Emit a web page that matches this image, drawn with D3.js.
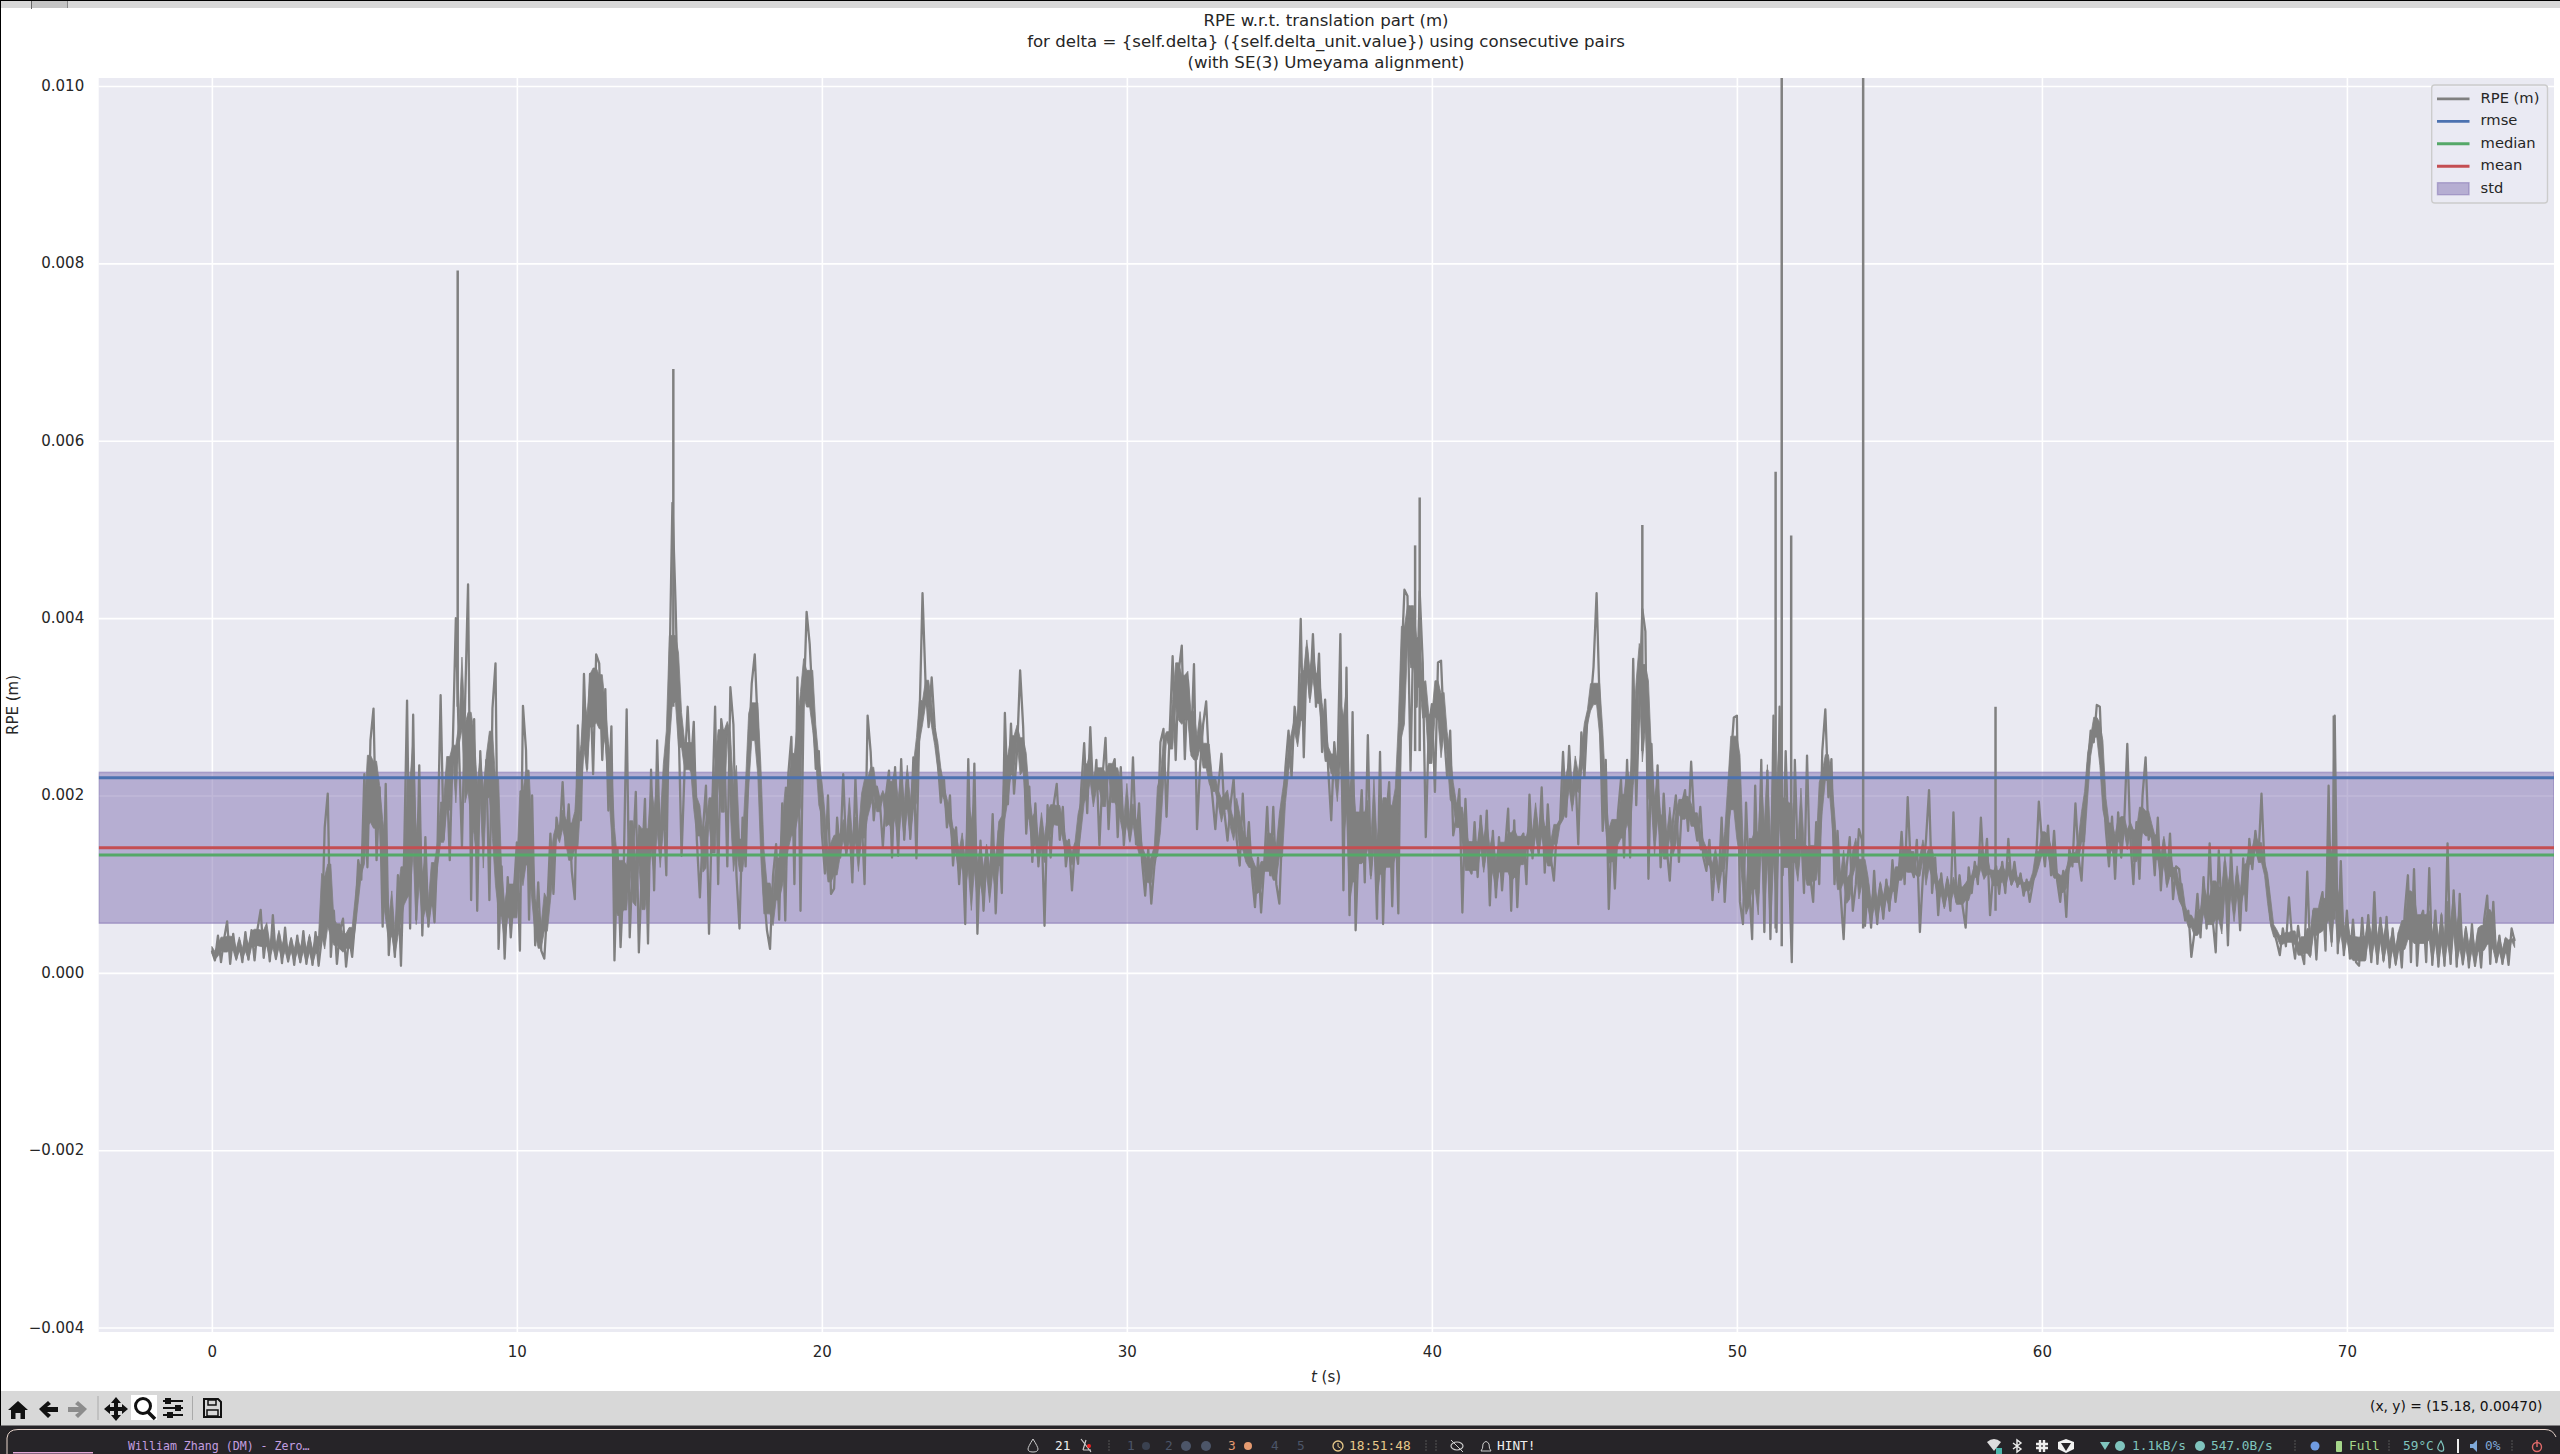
<!DOCTYPE html>
<html>
<head>
<meta charset="utf-8">
<script src="https://cdn.jsdelivr.net/npm/d3@7"></script>
<style>
html,body{margin:0;padding:0;background:#fff;width:2560px;height:1454px;overflow:hidden}
svg{display:block}
text{font-family:"DejaVu Sans",sans-serif}
.mono{font-family:"DejaVu Sans Mono",monospace}
</style>
</head>
<body>
<svg id="chart" width="2560" height="1454"></svg>
<script>
// ---- chart data -------------------------------------------------------
const titleLines = ["RPE w.r.t. translation part (m)",
  "for delta = {self.delta} ({self.delta_unit.value}) using consecutive pairs",
  "(with SE(3) Umeyama alignment)"];
const xTickValues = [0,10,20,30,40,50,60,70];
const yTickValues = [-0.004,-0.002,0,0.002,0.004,0.006,0.008,0.010];
const xLimits = [-3.71,76.79];
const yLimits = [-0.00405,0.01009];
const rmseValue = 0.00220, medianValue = 0.00133, meanValue = 0.00141;
const stdBandValues = [0.00056,0.00226];
const sampleStep = 0.1;         // seconds between the read-off samples
const valueUnit = 1e-5;         // samples below are in units of 1e-5 m
// one row per second of the recording
const rpeSamples = [
 25,14,42,12,38,58,10,44,16,36,
 12,46,15,48,14,50,71,17,46,13,
 65,16,44,11,51,13,38,9,42,12,
 47,10,40,9,46,8,38,164,202,18,
 70,10,48,61,7,40,18,60,127,105,
 224,119,262,298,127,209,52,213,20,70,
 18,110,8,127,307,50,291,60,234,42,
 153,52,98,57,145,313,150,226,127,258,
 400,255,142,300,438,82,286,70,250,164,
 240,82,298,349,27,120,16,108,40,90,
 147,25,301,251,60,200,31,102,25,16,
 75,157,89,175,153,215,142,190,115,83,
 279,172,337,230,337,224,359,349,240,320,
 183,278,14,140,29,110,297,40,130,204,
 23,120,196,33,229,93,262,130,200,110,
 330,530,420,285,132,230,300,228,283,150,
 85,160,211,44,180,300,100,286,259,120,
 322,280,110,50,175,120,250,326,359,277,
 179,90,48,27,110,145,60,191,59,224,
 266,100,333,70,297,407,371,303,230,250,
 157,112,200,89,95,175,130,224,134,170,
 102,219,130,180,100,290,249,172,210,194,
 142,200,228,130,232,132,241,150,225,151,
 243,129,283,428,326,277,333,277,240,192,
 220,164,200,121,164,100,150,55,241,90,
 236,44,149,70,140,91,179,67,160,90,
 293,190,281,202,250,341,277,157,210,125,
 191,120,170,53,189,130,190,213,150,187,
 120,150,93,145,123,206,259,180,277,196,
 240,144,220,265,162,230,241,153,232,144,
 190,150,243,145,191,125,87,140,78,120,
 145,260,275,176,268,357,240,340,369,241,
 330,250,348,162,232,280,306,230,200,162,
 210,247,180,149,190,219,150,121,202,130,
 170,110,74,130,68,120,187,110,187,100,
 78,170,232,273,220,300,270,399,243,367,
 310,382,300,360,249,308,230,172,260,220,
 382,93,344,65,294,48,150,206,102,268,
 110,180,61,249,55,175,215,75,200,67,
 347,432,425,228,400,300,430,350,153,277,
 303,204,350,352,270,221,273,155,175,207,
 68,196,120,112,170,108,177,120,183,76,
 160,85,153,93,140,185,70,172,74,150,
 157,100,201,129,180,135,209,113,190,130,
 104,164,170,249,176,256,190,230,145,271,
 220,290,302,345,428,303,160,240,72,164,
 95,180,218,130,240,130,354,189,300,410,
 385,106,258,150,234,119,202,140,104,170,
 200,125,190,206,160,238,172,149,187,130,
 115,150,82,130,100,175,80,140,240,288,
 290,80,55,192,100,38,211,90,240,46,
 228,38,290,46,300,110,250,130,12,240,
 120,168,90,245,110,80,170,100,250,297,
 198,241,100,160,89,38,120,153,70,100,
 162,150,53,100,51,115,55,100,61,105,
 70,127,80,110,159,100,198,120,108,150,
 46,110,150,206,90,130,65,112,75,105,
 70,181,80,110,75,51,119,90,125,100,
 175,112,151,65,110,120,89,125,90,151,
 100,125,97,112,87,105,80,100,120,193,
 150,120,166,110,160,104,80,115,63,140,
 120,191,130,104,170,232,273,260,302,300,
 213,160,120,176,106,181,130,170,258,150,
 100,170,106,200,243,150,160,110,175,93,
 150,100,157,83,120,117,80,59,70,18,
 45,89,40,108,50,146,60,23,138,60,
 125,31,139,70,110,48,129,70,151,117,
 160,130,202,120,102,60,47,35,20,50,
 30,85,40,16,53,25,10,114,20,70,
 15,75,91,25,211,35,290,22,126,20,
 70,16,60,12,8,62,15,65,12,91,
 10,62,14,63,6,50,10,45,6,70,
 110,12,117,8,60,70,12,118,9,70,
 7,65,8,146,10,93,7,89,10,50,
 6,55,8,45,6,60,87,10,80,12,
 42,10,38,9,50,36
];
// thin spikes that rise out of the band (time in s, base and top in 1e-5 m)
const spikeTimes = [8.06,15.13,39.45,39.6,46.9,51.27,51.47,51.78,54.14,58.48,69.57];
const spikeBases = [300,300,250,250,250,50,30,60,50,70,60];
const spikeTops  = [792,681,482,536,505,565,1200,493,1500,300,290];
const legendLabels = ["RPE (m)","rmse","median","mean","std"];
// ---- window furniture text --------------------------------------------
const statusReadout = "(x, y) = (15.18, 0.00470)";
const barTexts = ["William Zhang (DM) - Zero…","21","1","2","3","4","5","18:51:48","HINT!","1.1kB/s","547.0B/s","Full","59°C","0%"];
const barTextX = [128,1055,1127,1165,1228,1271,1297,1349,1497,2132,2211,2349,2403,2485];
const barTextColor = ["#c39fe0","#eeeeee","#4c5568","#4c5568","#e59a70","#4c5568","#4c5568","#e8c98a","#eeeeee","#7fc4bd","#7fc4bd","#a5d68a","#7fc4bd","#7fa8d8"];

const GRAY="#808080", BLUE="#4C72B0", GREEN="#55A868", RED="#C44E52", PURPLE="#8172B2";
const svg = d3.select("#chart");
const plot = {l:98.7,r:2554,t:78,b:1332};
const x = d3.scaleLinear().domain(xLimits).range([plot.l,plot.r]);
const y = d3.scaleLinear().domain(yLimits).range([plot.b,plot.t]);

svg.append("rect").attr("width",2560).attr("height",1454).attr("fill","#fff");
svg.append("defs").append("clipPath").attr("id","clip").append("rect")
  .attr("x",plot.l).attr("y",plot.t).attr("width",plot.r-plot.l).attr("height",plot.b-plot.t);

svg.append("rect").attr("x",plot.l).attr("y",plot.t).attr("width",plot.r-plot.l).attr("height",plot.b-plot.t).attr("fill","#EAEAF2");

// axes + grid
const fmtY = v => d3.format(".3f")(Math.abs(v)<1e-9?0:v).replace("-","\u2212");
const gx = svg.append("g").attr("transform",`translate(0,${plot.b})`)
  .call(d3.axisBottom(x).tickValues(xTickValues).tickSize(plot.t-plot.b).tickPadding(0).tickFormat(d3.format("d")));
gx.select(".domain").remove();
gx.selectAll("line").attr("stroke","#fff").attr("stroke-width",1.6);
gx.selectAll("text").attr("font-size",15).attr("fill","#262626").attr("font-family","DejaVu Sans")
  .attr("y",0).attr("dy",null).attr("transform","translate(0,20)").attr("dominant-baseline","middle");
const gy = svg.append("g").attr("transform",`translate(${plot.l},0)`)
  .call(d3.axisLeft(y).tickValues(yTickValues).tickSize(plot.l-plot.r).tickPadding(0).tickFormat(fmtY));
gy.select(".domain").remove();
gy.selectAll("line").attr("stroke","#fff").attr("stroke-width",1.6);
gy.selectAll("text").attr("font-size",15).attr("fill","#262626").attr("font-family","DejaVu Sans")
  .attr("x",-14.5).attr("dy",null).attr("dominant-baseline","middle");

const marks = svg.append("g").attr("clip-path","url(#clip)");
// std band
marks.append("rect").attr("x",plot.l).attr("width",plot.r-plot.l)
  .attr("y",y(stdBandValues[1])).attr("height",y(stdBandValues[0])-y(stdBandValues[1]))
  .attr("fill",PURPLE).attr("fill-opacity",0.5).attr("stroke",PURPLE).attr("stroke-opacity",0.5).attr("stroke-width",1.6);
// RPE trace: the recording is much denser than a pixel, so the body of the read-off
// samples (their middle spread around each instant) is filled solid under the zigzag
const points = rpeSamples.map((v,i)=>[i*sampleStep,v]);
const body = rpeSamples.map((v,i)=>{
  const win = rpeSamples.slice(Math.max(0,i-2),i+3).sort(d3.ascending);
  return {t:i*sampleStep, lo:d3.quantileSorted(win,0.36), hi:d3.quantileSorted(win,0.64)};
});
marks.append("path")
  .attr("d",d3.area().x(d=>x(d.t)).y0(d=>y(d.lo*valueUnit)).y1(d=>y(d.hi*valueUnit))(body))
  .attr("fill",GRAY).attr("stroke",GRAY).attr("stroke-width",0.8);
const line = d3.line().x(d=>x(d[0])).y(d=>y(d[1]*valueUnit));
marks.append("path").attr("d",line(points)).attr("fill","none").attr("stroke",GRAY).attr("stroke-width",2.3).attr("stroke-linejoin","round");
marks.selectAll("line.spike").data(spikeTimes).join("line").attr("class","spike")
  .attr("x1",d=>x(d)).attr("x2",d=>x(d))
  .attr("y1",(d,i)=>y(spikeBases[i]*valueUnit)).attr("y2",(d,i)=>y(spikeTops[i]*valueUnit))
  .attr("stroke",GRAY).attr("stroke-width",2.5);
// statistics lines
[[rmseValue,BLUE],[medianValue,GREEN],[meanValue,RED]].forEach(([v,c])=>{
  marks.append("line").attr("x1",plot.l).attr("x2",plot.r).attr("y1",y(v)).attr("y2",y(v))
    .attr("stroke",c).attr("stroke-width",3);
});

// titles
svg.append("g").selectAll("text").data(titleLines).join("text")
  .attr("x",1326).attr("y",(d,i)=>[21,42.5,63][i]).attr("text-anchor","middle").attr("dominant-baseline","middle")
  .attr("font-size",16.6).attr("fill","#262626").text(d=>d);
svg.append("text").attr("transform","translate(13,705) rotate(-90)").attr("text-anchor","middle").attr("dominant-baseline","middle")
  .attr("font-size",15).attr("fill","#262626").text("RPE (m)");
const xl = svg.append("text").attr("x",1326).attr("y",1377).attr("text-anchor","middle").attr("dominant-baseline","middle")
  .attr("font-size",15).attr("fill","#262626");
xl.append("tspan").attr("font-style","italic").text("t");
xl.append("tspan").text(" (s)");

// legend
const lg = svg.append("g");
lg.append("rect").attr("x",2431.7).attr("y",85).attr("width",115.8).attr("height",118).attr("rx",3)
  .attr("fill","#EAEAF2").attr("fill-opacity",0.8).attr("stroke","#cccccc").attr("stroke-width",1.4);
const legendY = d3.scalePoint().domain(legendLabels).range([98.8,188.7]);
const legendColor = [GRAY,BLUE,GREEN,RED];
legendLabels.forEach((lab,i)=>{
  const yy = legendY(lab);
  if(i<4) lg.append("line").attr("x1",2437).attr("x2",2469.5).attr("y1",yy).attr("y2",yy).attr("stroke",legendColor[i]).attr("stroke-width",2.8);
  else lg.append("rect").attr("x",2437.5).attr("y",yy-6).attr("width",31.5).attr("height",12)
    .attr("fill",PURPLE).attr("fill-opacity",0.5).attr("stroke",PURPLE).attr("stroke-opacity",0.5).attr("stroke-width",1.4);
  lg.append("text").attr("x",2480.6).attr("y",yy).attr("dominant-baseline","middle").attr("font-size",14.7).attr("fill","#262626").text(lab);
});

// ---- window chrome ----------------------------------------------------
const chrome = svg.append("g");
chrome.append("rect").attr("width",2560).attr("height",8).attr("fill","#D8D8D8");
chrome.append("rect").attr("x",32).attr("y",1).attr("width",35).attr("height",7).attr("fill","#C4C4C4");
chrome.append("rect").attr("x",31).attr("y",1).attr("width",1).attr("height",8).attr("fill","#666");
chrome.append("rect").attr("x",67).attr("y",1).attr("width",1).attr("height",7).attr("fill","#888");
chrome.append("rect").attr("width",2560).attr("height",1).attr("fill","#000");
chrome.append("rect").attr("width",1).attr("height",1426).attr("fill","#000");
chrome.append("rect").attr("x",1).attr("y",1391).attr("width",2559).attr("height",35).attr("fill","#D8D8D8");
chrome.append("rect").attr("y",1425.5).attr("width",2560).attr("height",28.5).attr("fill","#262428");
chrome.append("path").attr("d","M7 1454V1438Q8 1429.5 18 1429.5H2545Q2553 1429.5 2556 1437").attr("fill","none").attr("stroke","#e8d5cc").attr("stroke-width",1);
chrome.append("rect").attr("x",13).attr("y",1452).attr("width",80).attr("height",1.5).attr("fill","#e6a8d8");

// toolbar icons
const ic = chrome.append("g").attr("fill","#111").attr("stroke","none").attr("transform","translate(0,1)");
ic.append("path").attr("d","M8 1409L18 1400L28 1409L25 1409L25 1418L20.5 1418L20.5 1412L15.5 1412L15.5 1418L11 1418L11 1409Z");
ic.append("path").attr("d","M39 1408L48 1400L51 1403L47 1406L58 1406L58 1411L47 1411L51 1414L48 1417Z");
ic.append("path").attr("d","M87 1408L78 1400L75 1403L79 1406L68 1406L68 1411L79 1411L75 1414L78 1417Z").attr("fill","#8c8c8c");
chrome.append("rect").attr("x",97.5).attr("y",1396).attr("width",1).attr("height",24).attr("fill","#aaa");
ic.append("path").attr("d","M116 1396L121 1402L118 1402L118 1406L122 1406L122 1403L128 1408L122 1413L122 1410L118 1410L118 1414L121 1414L116 1420L111 1414L114 1414L114 1410L110 1410L110 1413L104 1408L110 1403L110 1406L114 1406L114 1402L111 1402Z");
chrome.append("rect").attr("x",131).attr("y",1395).attr("width",26).attr("height",25).attr("fill","#fff");
chrome.append("circle").attr("cx",143).attr("cy",1406).attr("r",7.5).attr("fill","none").attr("stroke","#111").attr("stroke-width",3);
chrome.append("line").attr("x1",148).attr("y1",1412).attr("x2",155).attr("y2",1419).attr("stroke","#111").attr("stroke-width",3.5);
[[1401,168],[1408,178],[1415,170]].forEach(([yy,xx])=>{
  chrome.append("rect").attr("x",163).attr("y",yy-1).attr("width",20).attr("height",2).attr("fill","#111");
  chrome.append("rect").attr("x",xx-3).attr("y",yy-3).attr("width",6).attr("height",6).attr("fill","#111");
});
chrome.append("rect").attr("x",192).attr("y",1396).attr("width",1).attr("height",24).attr("fill","#aaa");
chrome.append("path").attr("d","M204 1399H218L221 1402V1417H204Z").attr("fill","none").attr("stroke","#111").attr("stroke-width",2);
chrome.append("rect").attr("x",208).attr("y",1400).attr("width",8).attr("height",5).attr("fill","none").attr("stroke","#111").attr("stroke-width",1.5);
chrome.append("rect").attr("x",207).attr("y",1410).attr("width",11).attr("height",6).attr("fill","none").attr("stroke","#111").attr("stroke-width",1.5);

chrome.append("text").attr("x",2370).attr("y",1407).attr("dominant-baseline","middle").attr("font-size",13.8).attr("fill","#111").text(statusReadout);

// status bar text
chrome.selectAll("text.bar").data(barTexts).join("text").attr("class","bar mono")
  .attr("x",(d,i)=>barTextX[i]).attr("y",1446).attr("dominant-baseline","middle")
  .attr("font-size",(d,i)=>i===0?11.6:12.8).attr("fill",(d,i)=>barTextColor[i]).text(d=>d);

// status bar glyphs
const dot=(cx,c,r=5)=>chrome.append("circle").attr("cx",cx).attr("cy",1446).attr("r",r).attr("fill",c);
chrome.append("path").attr("d","M1033 1439Q1028 1447 1028 1449Q1028 1452 1033 1452Q1038 1452 1038 1449Q1038 1447 1033 1439Z").attr("fill","none").attr("stroke","#ccc").attr("stroke-width",1);
chrome.append("path").attr("d","M1081 1439L1091 1452M1083 1450H1091M1086 1440L1083 1450").attr("fill","none").attr("stroke","#ccc").attr("stroke-width",1.2);
dot(1089,"#e22",2);
dot(1146,"#3a4150",4); dot(1186,"#4c5568"); dot(1206,"#4c5568");
dot(1248,"#e59a70",4);
chrome.append("circle").attr("cx",1338).attr("cy",1446).attr("r",5).attr("fill","none").attr("stroke","#e8c98a").attr("stroke-width",1.3);
chrome.append("path").attr("d","M1338 1443V1446.5L1340.5 1448").attr("fill","none").attr("stroke","#e8c98a").attr("stroke-width",1);
[1109,1426,1436,2295,2389,2512].forEach(sx=>chrome.append("line").attr("x1",sx).attr("x2",sx).attr("y1",1440).attr("y2",1452).attr("stroke","#555").attr("stroke-width",1).attr("stroke-dasharray","2,1"));
chrome.append("ellipse").attr("cx",1457).attr("cy",1446).attr("rx",6).attr("ry",4).attr("fill","none").attr("stroke","#ccc").attr("stroke-width",1.2);
chrome.append("line").attr("x1",1451).attr("y1",1440).attr("x2",1463).attr("y2",1452).attr("stroke","#ccc").attr("stroke-width",1);
chrome.append("path").attr("d","M1481 1451Q1483 1449 1483 1444Q1486 1439 1489 1444Q1489 1449 1491 1451Z").attr("fill","none").attr("stroke","#ccc").attr("stroke-width",1);
chrome.append("path").attr("d","M1987 1442Q1994 1436 2001 1442L1994 1451Z").attr("fill","#ddd");
chrome.append("rect").attr("x",1996).attr("y",1448).attr("width",6).attr("height",6).attr("fill","#4db6ac");
chrome.append("path").attr("d","M2013 1443L2021 1449L2017 1452V1440L2021 1443L2013 1449").attr("fill","none").attr("stroke","#eee").attr("stroke-width",1.4);
chrome.append("path").attr("d","M2036 1444H2048M2036 1448H2048M2040 1440V1452M2044 1440V1452").attr("stroke","#eee").attr("stroke-width",2.4).attr("fill","none");
chrome.append("path").attr("d","M2066 1439L2074 1442V1449L2066 1453L2058 1449V1442Z").attr("fill","#f2f2f2");
chrome.append("path").attr("d","M2061 1443L2066 1451L2071 1443Z").attr("fill","#262428");
chrome.append("path").attr("d","M2100 1442H2110L2105 1450Z").attr("fill","#7fc4bd");
dot(2120,"#7fc4bd"); dot(2200,"#7fc4bd");
dot(2315,"#6f9be0",4.5);
chrome.append("rect").attr("x",2336).attr("y",1441).attr("width",6).attr("height",11).attr("rx",1).attr("fill","#a5d68a");
chrome.append("path").attr("d","M2441 1441Q2437 1447 2438 1449Q2440 1452 2443 1451Q2445 1448 2441 1441Z").attr("fill","none").attr("stroke","#7fc4bd").attr("stroke-width",1.3);
chrome.append("rect").attr("x",2457).attr("y",1439).attr("width",2).attr("height",14).attr("fill","#eee");
chrome.append("path").attr("d","M2470 1444H2473L2477 1440V1452L2473 1448H2470Z").attr("fill","#7fa8d8");
chrome.append("circle").attr("cx",2537).attr("cy",1447).attr("r",4.5).attr("fill","none").attr("stroke","#e06a6a").attr("stroke-width",1.4);
chrome.append("line").attr("x1",2537).attr("x2",2537).attr("y1",1440).attr("y2",1447).attr("stroke","#e06a6a").attr("stroke-width",1.4);
</script>
</body>
</html>
